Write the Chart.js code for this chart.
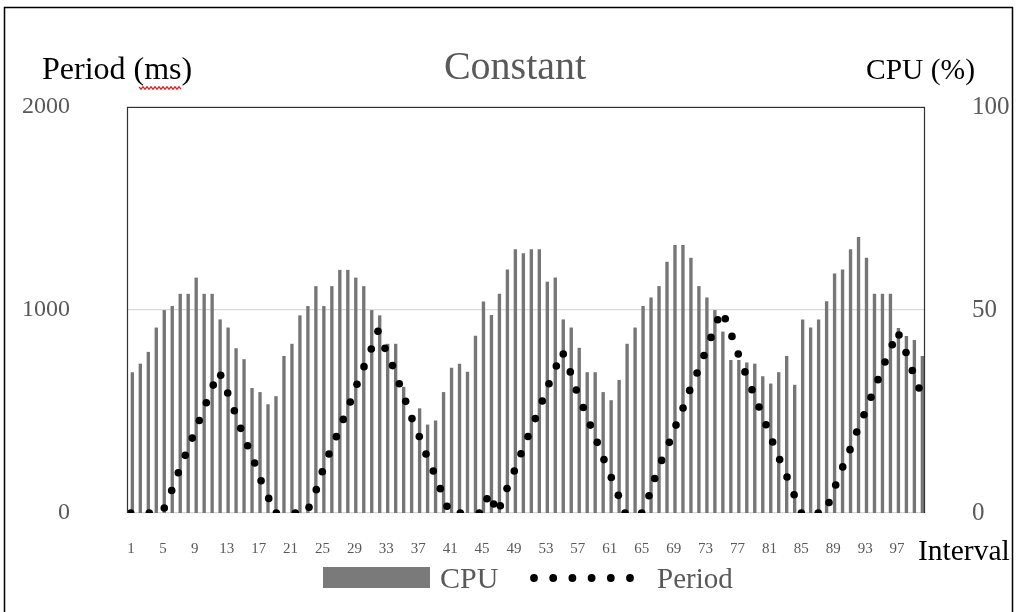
<!DOCTYPE html>
<html><head><meta charset="utf-8">
<script src="https://cdn.jsdelivr.net/npm/chart.js@4.4.0/dist/chart.umd.min.js"></script>
<style>html,body{margin:0;padding:0;background:#fff;overflow:hidden}#wrap{width:1018px;height:612px;position:relative}</style>
</head><body><div id="wrap"><canvas id="c" width="1018" height="612"></canvas></div>
<script>
// ---- data ----
const intervals = Array.from({length:100},(_,i)=>String(i+1));
const cpuValues = [34.6,36.7,39.6,45.6,49.9,50.9,53.9,53.9,57.9,53.9,
53.9,47.6,45.6,40.5,37.8,30.7,29.7,26.7,28.7,38.6,
41.6,48.6,50.9,55.8,50.9,55.8,59.8,59.8,57.9,55.8,
49.9,48.6,41.6,41.6,31,23,25.7,21.7,22.7,29.7,
35.7,36.7,34.7,43.6,52.0,48.7,53.9,59.9,64.9,63.9,
64.9,64.9,56.9,57.9,47.6,45.6,40.6,34.6,34.6,29.7,
27.7,32.7,41.6,45.6,50.9,53.0,55.8,61.8,65.9,65.9,
62.8,55.8,53.0,49.9,44.6,37.6,37.6,37.0,36.7,33.6,
31.8,34.6,38.6,31.5,47.6,45.6,47.6,52.1,58.9,59.9,
64.9,67.9,62.8,53.9,53.9,53.9,45.5,43.5,42.5,38.6];
const periodX = [0.96,3.29,5.17,6.10,6.93,7.80,8.68,9.56,10.44,11.31,12.24,13.12,13.95,14.75,15.62,16.50,17.30,18.26,19.21,
21.59,23.31,24.22,24.97,25.81,26.73,27.60,28.48,29.32,30.20,31.11,31.95,32.83,33.77,34.62,35.42,36.21,37.13,37.97,38.88,39.76,40.60,42.27,
44.65,45.61,46.45,47.28,48.12,49.03,49.87,50.75,51.67,52.54,53.38,54.30,55.17,56.05,56.80,57.68,58.56,59.43,60.27,61.19,62.07,62.91,
65.00,65.91,66.63,67.50,68.46,69.30,70.18,71.01,71.93,72.80,73.68,74.52,75.47,76.31,77.10,77.94,78.82,79.70,80.58,81.41,82.29,83.21,84.10,85.00,
87.12,88.47,89.31,90.19,91.10,91.94,92.85,93.73,94.61,95.49,96.40,97.24,98.12,98.91,99.75];
const periodY = [0,0,25,111,198,284,369,456,543,630,678,591,504,417,331,246,159,72,0,
0,28,115,203,291,376,461,547,634,721,808,895,811,726,637,550,465,377,291,207,120,33,0,
0,70,44,36,121,207,292,377,465,552,637,724,783,695,606,520,433,348,263,175,87,0,
0,85,170,259,348,433,517,604,690,776,865,952,957,870,783,695,607,522,435,350,263,177,90,0,
0,52,138,227,312,399,484,570,657,744,829,877,791,702,616];
const periodTicks = [0,1000,2000];
const cpuTicks = [0,50,100];

const SERIF = '"Liberation Serif","Times New Roman",serif';
const GREY = '#595959';

const decor = {
  id:'decor',
  afterDraw(chart){
    const c = chart.ctx, a = chart.chartArea;
    c.save();
    // plot frame
    c.strokeStyle = '#303030'; c.lineWidth = 1.2;
    c.beginPath();
    c.moveTo(a.left+0.5, a.bottom); c.lineTo(a.left+0.5, a.top+0.5);
    c.lineTo(a.right-0.5, a.top+0.5); c.lineTo(a.right-0.5, a.bottom);
    c.stroke();
    // outer border
    c.strokeStyle = '#000'; c.lineWidth = 1.5;
    c.beginPath();
    c.moveTo(4.5, 612); c.lineTo(4.5, 7.5); c.lineTo(1012.5, 7.5); c.lineTo(1012.5, 612);
    c.stroke();
    // titles
    c.textBaseline = 'alphabetic';
    c.fillStyle = GREY; c.font = '40px ' + SERIF; c.textAlign = 'center';
    c.fillText('Constant', 515, 79);
    c.fillStyle = '#000'; c.textAlign = 'left';
    c.font = '32px ' + SERIF;
    c.fillText('Period (ms)', 42, 79);
    c.font = '29.5px ' + SERIF;
    c.fillText('CPU (%)', 866, 79);
    c.fillText('Interval', 918, 560);
    // red wavy underline under "ms"
    c.strokeStyle = '#e02020'; c.lineWidth = 1.2;
    c.beginPath();
    for (let x = 139, k = 0; x <= 181; x += 2, k++) {
      const y = 88 + (k % 2 ? 1.2 : -1.2);
      if (k === 0) c.moveTo(x, y); else c.lineTo(x, y);
    }
    c.stroke();
    // legend
    c.fillStyle = '#7a7a7a';
    c.fillRect(323, 567, 107, 21);
    c.fillStyle = GREY; c.font = '30px ' + SERIF;
    c.fillText('CPU', 440, 588);
    c.font = '29px ' + SERIF;
    c.fillText('Period', 657, 588);
    c.fillStyle = '#000';
    for (let k = 0; k < 6; k++) {
      c.beginPath(); c.arc(534 + k*19.2, 578, 3.9, 0, Math.PI*2); c.fill();
    }
    c.restore();
  }
};

new Chart(document.getElementById('c'), {
  type: 'bar',
  data: {
    labels: intervals,
    datasets: [
      {type:'line', label:'Period', data: periodX.map((x,i)=>({x:x, y:periodY[i]})),
       xAxisID:'xP', yAxisID:'yP', showLine:false, pointRadius:3.8, pointHoverRadius:3.8,
       pointBackgroundColor:'#000', pointBorderWidth:0, order:1},
      {type:'bar', label:'CPU', data: cpuValues, xAxisID:'x', yAxisID:'yC',
       backgroundColor:'#767676', barThickness:2.7, order:2}
    ]
  },
  options: {
    responsive:false, animation:false, devicePixelRatio:1,
    layout:{padding:{top:107, left:0, right:0, bottom:0}},
    plugins:{legend:{display:false}, tooltip:{enabled:false}, title:{display:false}},
    scales:{
      x:{type:'category', offset:true, position:'bottom',
         grid:{display:false, drawTicks:false}, border:{display:false},
         ticks:{autoSkip:false, maxRotation:0, minRotation:0, padding:27, color:GREY,
                font:{family:SERIF, size:15},
                callback:(v,i)=> (i % 4 === 0 ? intervals[i] : '')},
         afterFit(s){ s.height = 99; }},
      xP:{type:'linear', min:0.5, max:100.5, offset:false, display:false, grid:{offset:false}},
      yP:{type:'linear', position:'left', min:0, max:2000,
          afterBuildTicks(s){ s.ticks = periodTicks.map(v=>({value:v})); },
          grid:{color:'#d9d9d9', lineWidth:1.2, drawTicks:false}, border:{display:false},
          ticks:{padding:57, color:GREY, font:{family:SERIF, size:24}, callback:(v)=>String(v)},
          afterFit(s){ s.width = 127; }},
      yC:{type:'linear', position:'right', min:0, max:100,
          afterBuildTicks(s){ s.ticks = cpuTicks.map(v=>({value:v})); },
          grid:{display:false, drawTicks:false}, border:{display:false},
          ticks:{padding:47, color:GREY, font:{family:SERIF, size:25}, callback:(v)=>String(v)},
          afterFit(s){ s.width = 93; }}
    }
  },
  plugins:[decor]
});
</script></body></html>
